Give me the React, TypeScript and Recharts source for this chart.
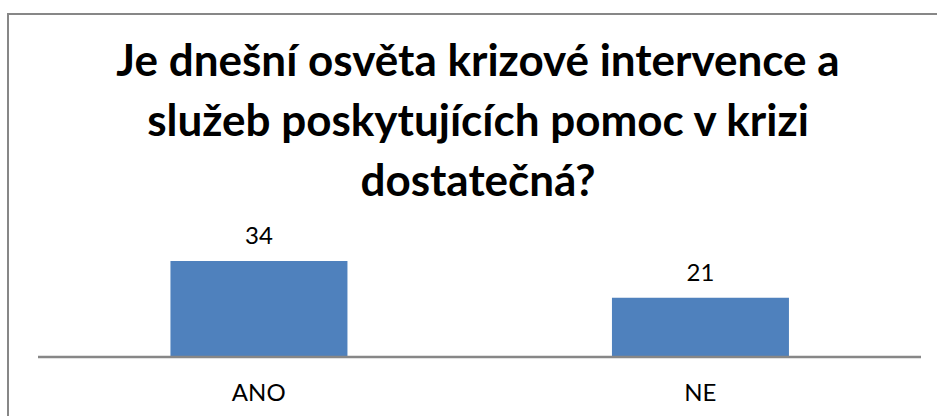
import { BarChart, Bar, XAxis, YAxis, LabelList } from 'recharts';

const CATEGORIES = ['ANO', 'NE'];
const VALUES = [34, 21];
const TITLE_LINES = [
  'Je dnešní osvěta krizové intervence a',
  'služeb poskytujících pomoc v krizi',
  'dostatečná?',
];

const data = CATEGORIES.map((c, i) => ({ name: c, value: VALUES[i] }));

const FONT = 'Lato, "Open Sans", sans-serif';

export default function App() {
  return (
    <div style={{ position: 'absolute', top: 0, left: 0, width: 937, height: 416, background: '#fff', overflow: 'hidden', fontFamily: FONT }}>
      <div style={{
        position: 'absolute', top: 13, left: 7, width: 940, height: 420,
        borderTop: '2px solid #878787', borderLeft: '2px solid #878787',
      }} />
      <div style={{
        position: 'absolute', top: 29, left: 0, width: 956, textAlign: 'center',
        fontSize: 44, fontWeight: 700, lineHeight: '60px', color: '#000',
      }}>
        {TITLE_LINES.map(l => <div key={l}>{l}</div>)}
      </div>
      <BarChart
        width={937}
        height={416}
        data={data}
        margin={{ top: 244, right: 16, bottom: 0, left: 38 }}
        barCategoryGap="30%"
        style={{ position: 'absolute', top: 0, left: 0 }}
      >
        <XAxis
          dataKey="name"
          height={59}
          axisLine={{ stroke: '#878787', strokeWidth: 2.5 }}
          tickLine={false}
          tickSize={0}
          tickMargin={27}
          tick={{ fontSize: 24, fill: '#000', fontFamily: FONT }}
        />
        <YAxis hide domain={[0, 40]} />
        <Bar dataKey="value" fill="#4F81BD" isAnimationActive={false}>
          <LabelList dataKey="value" position="top" offset={17} fill="#000" fontSize={24} fontFamily={FONT} isAnimationActive={false} />
        </Bar>
      </BarChart>
    </div>
  );
}
